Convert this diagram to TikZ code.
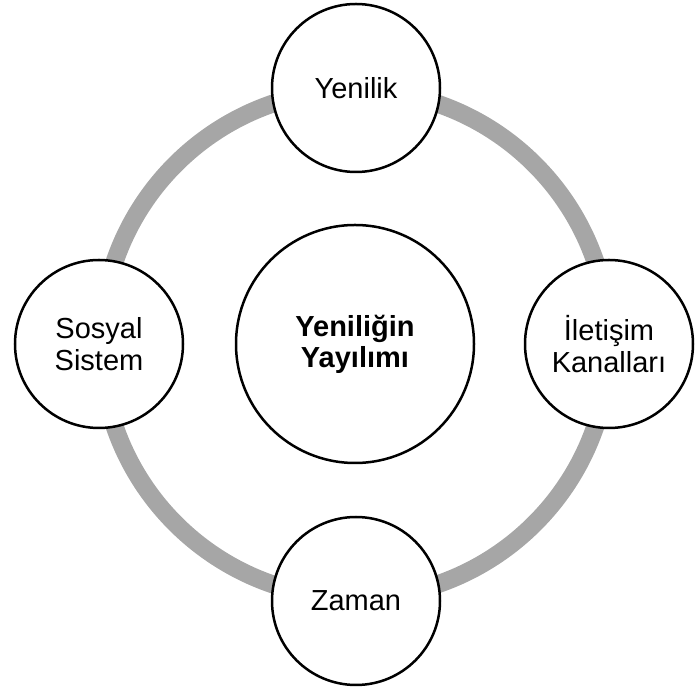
\documentclass[tikz,border=0pt]{standalone}
\usepackage{fontspec}
\setmainfont{Liberation Sans}
\usetikzlibrary{positioning}
\definecolor{halka}{HTML}{A6A6A6}
\tikzset{
  ring/.style={draw=halka, line width=18pt},
  element/.style={circle, draw=black, line width=2.5pt, fill=white, minimum size=168pt, inner sep=0pt, align=center, font=\fontsize{29}{32}\selectfont},
  hub/.style={element, minimum size=238pt, font=\fontsize{29}{31}\selectfont\bfseries}
}

\begin{document}
\begin{tikzpicture}[x=1pt, y=1pt]
  \useasboundingbox (0,0) rectangle (697,688);
  \coordinate (merkez) at (355,344);

  \draw[ring] (merkez) circle (254);

  \node[hub] (yayilim) at (merkez) {Yeniliğin\\Yayılımı};
  \node[element] (yenilik) at (356,600) {Yenilik};
  \node[element] (kanallar) at (609,344) {İletişim\\Kanalları};
  \node[element] (zaman) at (356,87) {Zaman};
  \node[element] (sistem) at (99,344) {Sosyal\\Sistem};
\end{tikzpicture}
\end{document}
